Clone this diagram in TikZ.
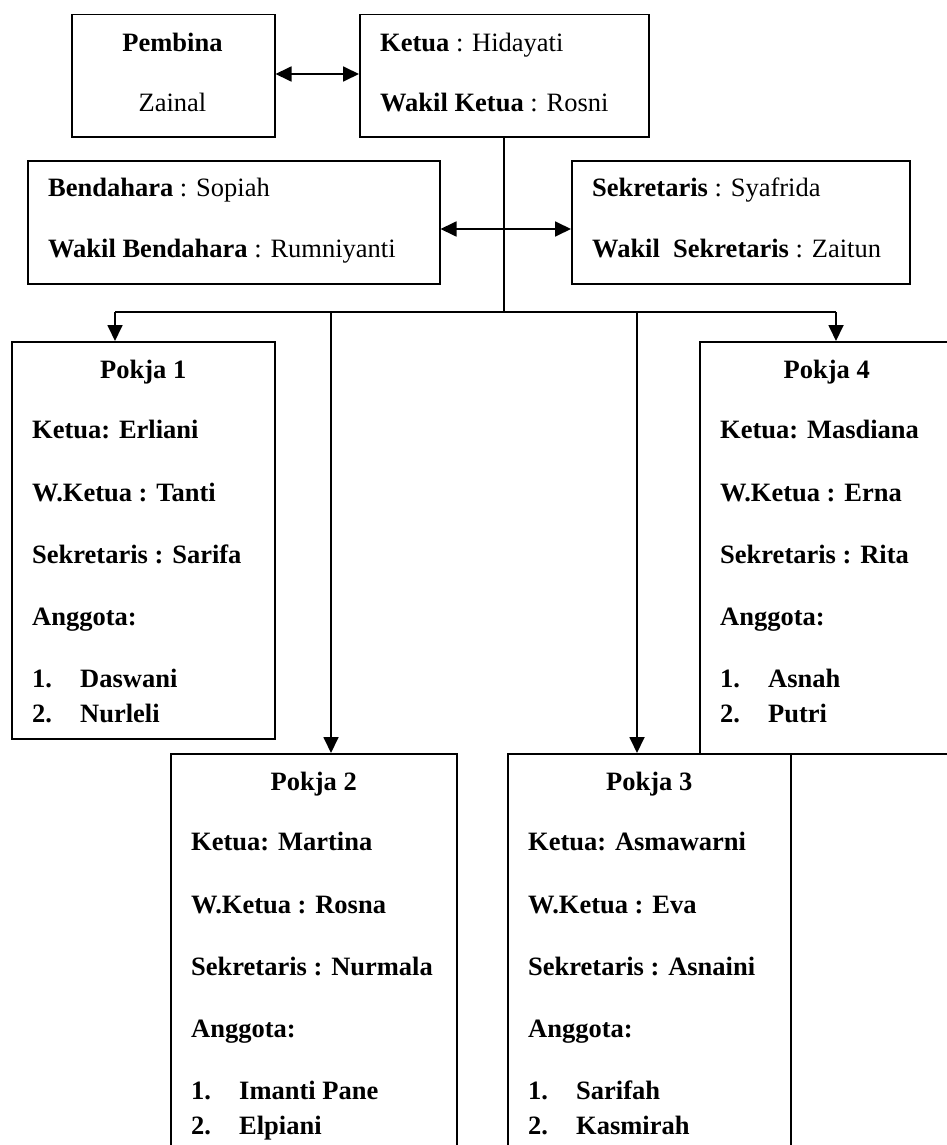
\documentclass[tikz,border=0pt]{standalone}
\usepackage{fontspec}
\setmainfont{Liberation Serif}
\usetikzlibrary{arrows.meta}
\tikzset{
  orgbox/.style={draw, line width=1.5pt, inner sep=0pt, anchor=north west},
  ltxt/.style={inner sep=0pt, anchor=base west},
  ctxt/.style={inner sep=0pt, anchor=base},
  link/.style={line width=1.6pt},
  arr/.style={line width=1.8pt, -{Triangle[length=16pt,width=15pt]}},
  darr/.style={line width=1.8pt, {Triangle[length=16pt,width=15pt]}-{Triangle[length=16pt,width=15pt]}}
}
\newcommand\mkpokja[9]{%
  \node[ctxt,font=\bfseries] (#1t) at ([yshift=-37pt]#1.north) {Pokja #4};
  \node[ltxt,font=\bfseries] (#1k) at ([xshift=21pt,yshift=-97pt]#1.north west) {Ketua: #5};
  \node[ltxt,font=\bfseries] (#1w) at ([xshift=21pt,yshift=-160pt]#1.north west) {W.Ketua : #6};
  \node[ltxt,font=\bfseries] (#1s) at ([xshift=21pt,yshift=-222pt]#1.north west) {Sekretaris : #7};
  \node[ltxt,font=\bfseries] (#1a) at ([xshift=21pt,yshift=-284pt]#1.north west) {Anggota:};
  \node[ltxt,font=\bfseries] (#1na) at ([xshift=21pt,yshift=-346pt]#1.north west) {1.};
  \node[ltxt,font=\bfseries] (#1ma) at ([xshift=69pt,yshift=-346pt]#1.north west) {#8};
  \node[ltxt,font=\bfseries] (#1nb) at ([xshift=21pt,yshift=-381pt]#1.north west) {2.};
  \node[ltxt,font=\bfseries] (#1mb) at ([xshift=69pt,yshift=-381pt]#1.north west) {#9};
}
\begin{document}
\begin{tikzpicture}[x=1pt,y=-1pt]
\fontsize{26.5pt}{32pt}\selectfont
\useasboundingbox (0,0) rectangle (947,1145);
\clip (0,0) rectangle (947,1145);
% top boxes
\node[orgbox, minimum width=203pt, minimum height=122pt] (pembina) at (71,14) {};
\node[orgbox, minimum width=289pt, minimum height=122pt] (ketua) at (359,14) {};
\node[orgbox, minimum width=412pt, minimum height=123pt] (bend) at (27,160) {};
\node[orgbox, minimum width=338pt, minimum height=123pt] (sek) at (571,160) {};
% pokja boxes
\node[orgbox, minimum width=263pt, minimum height=397pt] (p1) at (11,341) {};
\node[orgbox, minimum width=254pt, minimum height=412pt] (p4) at (699,341) {};
\node[orgbox, minimum width=286pt, minimum height=500pt] (p2) at (170,753) {};
\node[orgbox, minimum width=283pt, minimum height=500pt] (p3) at (507,753) {};
% top texts
\node[ctxt, font=\bfseries] (pembinat) at (172.5,52) {Pembina};
\node[ctxt] (zainal) at (172.5,112) {Zainal};
\node[ltxt] (ketuat) at (380,52) {\textbf{Ketua} : Hidayati};
\node[ltxt] (wketuat) at (380,112) {\textbf{Wakil Ketua} : Rosni};
\node[ltxt] (bendt) at (48,196) {\textbf{Bendahara} : Sopiah};
\node[ltxt] (wbendt) at (48,257) {\textbf{Wakil Bendahara} : Rumniyanti};
\node[ltxt] (sekt) at (592,196) {\textbf{Sekretaris} : Syafrida};
\node[ltxt] (wsekt) at (592,257) {\textbf{Wakil~~Sekretaris} : Zaitun};
% pokja texts
\mkpokja{p1}{}{}{1}{Erliani}{Tanti}{Sarifa}{Daswani}{Nurleli}
\mkpokja{p4}{}{}{4}{Masdiana}{Erna}{Rita}{Asnah}{Putri}
\mkpokja{p2}{}{}{2}{Martina}{Rosna}{Nurmala}{Imanti Pane}{Elpiani}
\mkpokja{p3}{}{}{3}{Asmawarni}{Eva}{Asnaini}{Sarifah}{Kasmirah}
% connectors
\coordinate (bus) at (504,312);
\coordinate (b1) at (115,312);
\coordinate (b2) at (331,312);
\coordinate (b3) at (637,312);
\coordinate (b4) at (836,312);
\coordinate (side) at (504,229);
\draw[darr] (pembina.east |- 0,74) -- (ketua.west |- 0,74);
\draw[link] (ketua.south -| bus) -- (bus);
\draw[darr] (bend.east |- side) -- (sek.west |- side);
\draw[link] (b1) -- (b4);
\draw[arr] (b1) -- (b1 |- p1.north);
\draw[arr] (b2) -- (b2 |- p2.north);
\draw[arr] (b3) -- (b3 |- p3.north);
\draw[arr] (b4) -- (b4 |- p4.north);
\end{tikzpicture}
\end{document}
